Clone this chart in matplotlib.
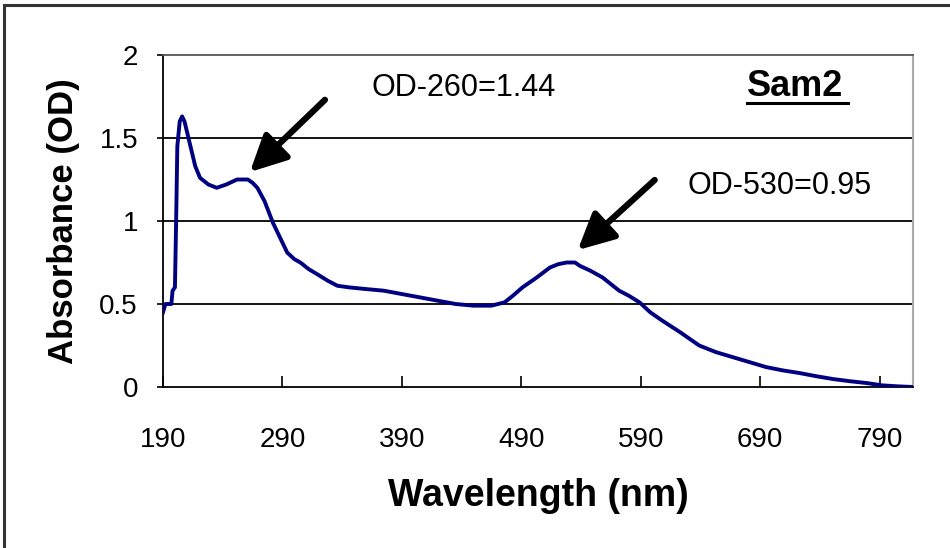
import matplotlib
matplotlib.use("Agg")
import matplotlib.pyplot as plt
from matplotlib.patches import Rectangle
from matplotlib.lines import Line2D

wavelength = [190, 192, 197, 198, 200, 201, 202, 204, 206, 208, 212, 217, 221, 228, 235,
              243, 252, 261, 265, 269, 275, 282, 288, 294, 300, 305, 312, 319, 328, 336,
              346, 360, 375, 390, 405, 420, 435, 450, 465, 476, 483, 491, 503, 514, 521,
              528, 535, 539, 548, 558, 565, 572, 580, 589, 598, 608, 623, 639, 653, 667,
              681, 695, 709, 723, 737, 751, 765, 779, 792, 805, 818]
absorbance = [0.45, 0.50, 0.50, 0.58, 0.60, 1.00, 1.45, 1.60, 1.63, 1.60, 1.48, 1.33, 1.26, 1.22, 1.20,
              1.22, 1.25, 1.25, 1.23, 1.20, 1.12, 0.99, 0.90, 0.81, 0.77, 0.75, 0.71, 0.68, 0.64, 0.61,
              0.60, 0.59, 0.58, 0.56, 0.54, 0.52, 0.50, 0.49, 0.49, 0.51, 0.55, 0.60, 0.66, 0.72, 0.74,
              0.75, 0.75, 0.73, 0.70, 0.66, 0.62, 0.58, 0.55, 0.51, 0.45, 0.40, 0.33, 0.25, 0.21, 0.18,
              0.15, 0.12, 0.10, 0.084, 0.065, 0.048, 0.035, 0.024, 0.01, 0.004, 0.0]

x_ticks = [190, 290, 390, 490, 590, 690, 790]
y_ticks = [0, 0.5, 1, 1.5, 2]
y_tick_labels = ["0", "0.5", "1", "1.5", "2"]

plt.rcParams['font.family'] = ['Liberation Sans', 'DejaVu Sans']

fig = plt.figure(figsize=(9.5, 5.48), dpi=100)
ax = fig.add_axes([163/950, 1-387/548, (913-163)/950, (387-55)/548])

# figure border
fig.patches.append(Rectangle((4/950, -0.1), 1.2, 1 - 5/548 + 0.1, transform=fig.transFigure,
                             fill=False, edgecolor='#333333', linewidth=2.2, zorder=0))

ax.plot(wavelength, absorbance, color='#000080', linewidth=2.8, zorder=3)

ax.set_xlim(190, 818)
ax.set_ylim(0, 2)
ax.set_xticks(x_ticks)
ax.set_xticklabels([str(t) for t in x_ticks])
ax.set_yticks(y_ticks)
ax.set_yticklabels(y_tick_labels)
for y in y_ticks[1:4]:
    ax.axhline(y, color='black', linewidth=1.3, zorder=1)

ax.tick_params(axis='x', direction='in', length=8, width=1.2, labelsize=20, pad=29, colors='black')
ax.tick_params(axis='y', direction='out', length=4, width=1.2, labelsize=20, pad=14)
for s in ['left', 'bottom', 'top']:
    ax.spines[s].set_color('black')
    ax.spines[s].set_linewidth(1.3)
ax.spines['top'].set_color('#555555')
ax.spines['right'].set_color('#aaaaaa')
ax.spines['right'].set_linewidth(1.5)

ax.set_xlabel('Wavelength (nm)', fontsize=27, fontweight='bold', labelpad=18)
ax.set_ylabel('Absorbance (OD)', fontsize=25, fontweight='bold', labelpad=14)

ax.annotate('', xy=(262.8, 1.295), xytext=(325.6, 1.73),
            arrowprops=dict(arrowstyle='-|>,head_length=1.0,head_width=0.5', lw=4.5,
                            color='black', mutation_scale=22, shrinkA=0, shrinkB=0))
ax.annotate('', xy=(537.3, 0.825), xytext=(601.7, 1.247),
            arrowprops=dict(arrowstyle='-|>,head_length=1.0,head_width=0.5', lw=4.5,
                            color='black', mutation_scale=22, shrinkA=0, shrinkB=0))

ax.text(365, 1.80, 'OD-260=1.44', fontsize=22, va='center', ha='left')
ax.text(629, 1.21, 'OD-530=0.95', fontsize=22, va='center', ha='left')
ax.text(747/950, 1-86/548, 'Sam2', transform=fig.transFigure, fontsize=26,
        fontweight='bold', va='center', ha='left')
fig.lines.append(Line2D([747/950, 848/950], [1-103/548, 1-103/548], transform=fig.transFigure,
                        color='black', linewidth=2.2))

fig.savefig('out.png', dpi=100)
